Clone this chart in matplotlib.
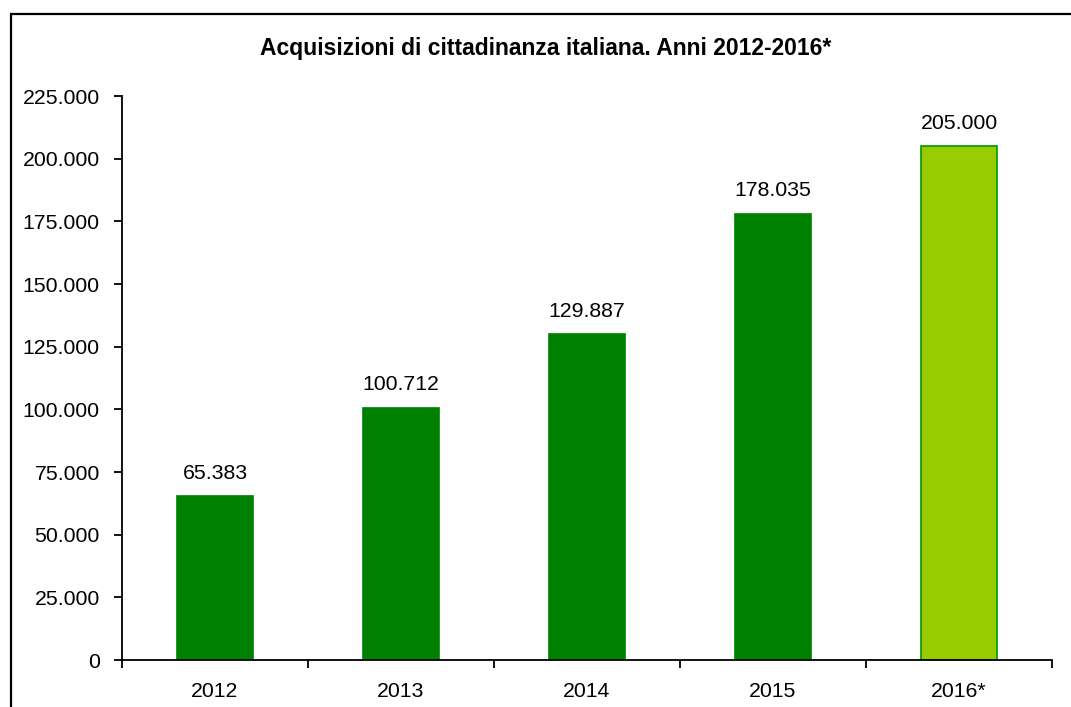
import matplotlib
matplotlib.use("Agg")
import matplotlib.pyplot as plt
from matplotlib.patches import Rectangle
from matplotlib.ticker import FuncFormatter, FixedLocator

categories = ["2012", "2013", "2014", "2015", "2016*"]
values = [65383, 100712, 129887, 178035, 205000]
value_labels = ["65.383", "100.712", "129.887", "178.035", "205.000"]
title = "Acquisizioni di cittadinanza italiana. Anni 2012-2016*"

plt.rcParams['font.family'] = ['Liberation Sans', 'DejaVu Sans']

W, H = 1071, 707
fig = plt.figure(figsize=(W/100, H/100), dpi=100)
ax = fig.add_axes([122/W, 1-660/H, (1052-122)/W, (660-96)/H])

colors = ["#008000"]*4 + ["#99CC00"]
edges = ["#008000"]*4 + ["#009900"]
x = list(range(len(categories)))
bars = ax.bar(x, values, width=0.41, color=colors, edgecolor=edges, linewidth=1.2)

FS = 15.3
for xi, v, lab in zip(x, values, value_labels):
    ax.annotate(lab, (xi, v), xytext=(0, 16.5), textcoords="offset points",
                ha="center", va="center", fontsize=FS)

ax.set_xlim(-0.5, 4.5)
ax.set_ylim(0, 225000)
ax.set_yticks(range(0, 225001, 25000))
ax.yaxis.set_major_formatter(FuncFormatter(lambda v, p: f"{int(v):,}".replace(",", ".")))
ax.set_xticks(x)
ax.set_xticklabels(categories)
ax.xaxis.set_minor_locator(FixedLocator([i - 0.5 for i in range(len(categories) + 1)]))
ax.tick_params(axis="x", which="major", length=0, pad=16, labelsize=FS)
ax.tick_params(axis="x", which="minor", length=6, width=1.3, direction="out")
ax.tick_params(axis="y", length=6, width=1.3, direction="out", pad=10, labelsize=FS)
for s in ["top", "right"]:
    ax.spines[s].set_visible(False)
for s in ["left", "bottom"]:
    ax.spines[s].set_linewidth(1.3)

fig.text(546/W, 1-48/H, title, ha="center", va="center", fontsize=16.5, fontweight="bold")

fig.patches.append(Rectangle((10.5/W, -0.05), 1.2, 1-13.5/H + 0.05, transform=fig.transFigure,
                             fill=False, edgecolor="black", linewidth=1.6, figure=fig))

fig.savefig("out.png", dpi=100)
